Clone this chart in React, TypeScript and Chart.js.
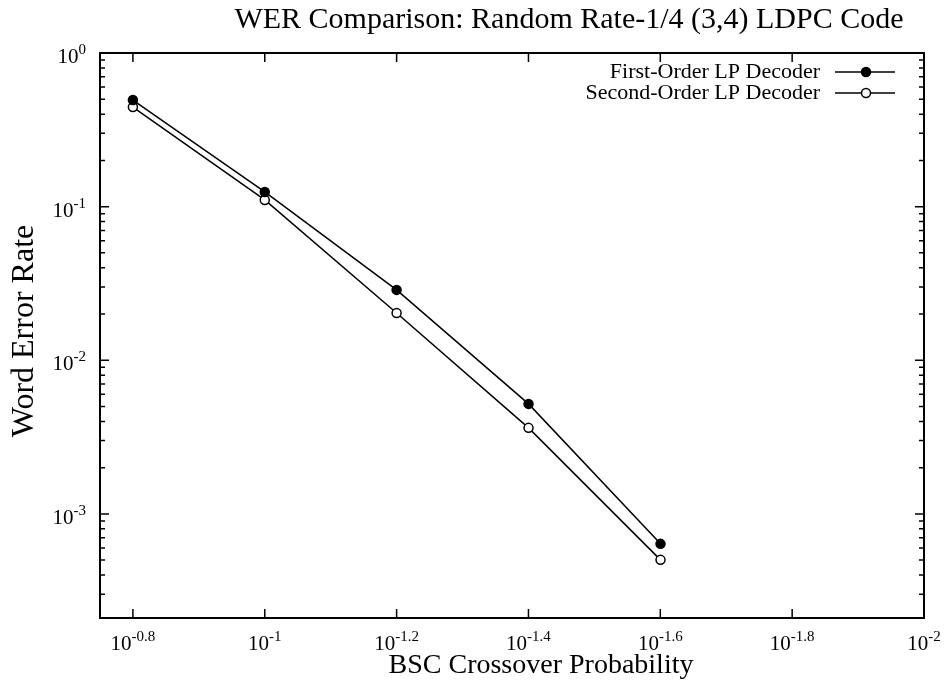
import React, { useEffect, useRef } from "react";
import { Chart, registerables } from "chart.js";

Chart.register(...registerables);

// ---- data ----
const crossoverProb = [0.1585, 0.1, 0.0631, 0.0398, 0.0251]; // 10^-0.8 ... 10^-1.6
const firstOrderWER = [0.494, 0.1246, 0.0287, 0.0052, 0.000638];
const secondOrderWER = [0.445, 0.1105, 0.0203, 0.00363, 0.000502];

const xTickExponents = [-0.8, -1, -1.2, -1.4, -1.6, -1.8, -2];
const xTickLabels = ["-0.8", "-1", "-1.2", "-1.4", "-1.6", "-1.8", "-2"];
const yTickExponents = [0, -1, -2, -3];
const yTickLabels = ["0", "-1", "-2", "-3"];

const xMin = 0.01;
const xMax = 0.1778;
const yMin = 0.00021;
const yMax = 1;

const seriesNames = ["First-Order LP Decoder", "Second-Order LP Decoder"];
const titleText = "WER Comparison: Random Rate-1/4 (3,4) LDPC Code";
const xTitle = "BSC Crossover Probability";
const yTitle = "Word Error Rate";

const SERIF = '"Liberation Serif", "DejaVu Serif", serif';

function drawPow(ctx: CanvasRenderingContext2D, x: number, y: number, exp: string, align: "center" | "right") {
  ctx.textBaseline = "alphabetic";
  ctx.textAlign = "left";
  ctx.font = `21px ${SERIF}`;
  const wb = ctx.measureText("10").width;
  ctx.font = `15px ${SERIF}`;
  const ws = ctx.measureText(exp).width;
  const total = wb + ws;
  const start = align === "center" ? x - total / 2 : x - total;
  ctx.font = `21px ${SERIF}`;
  ctx.fillText("10", start, y);
  ctx.font = `15px ${SERIF}`;
  ctx.fillText(exp, start + wb, y - 9);
}

const decorPlugin = {
  id: "decor",
  afterDraw(chart: any) {
    const ctx: CanvasRenderingContext2D = chart.ctx;
    const ca = chart.chartArea;
    const xs = chart.scales.x;
    const ys = chart.scales.y;
    ctx.save();
    ctx.fillStyle = "#000";
    ctx.strokeStyle = "#000";
    // frame
    ctx.lineWidth = 2;
    ctx.strokeRect(ca.left, ca.top, ca.right - ca.left, ca.bottom - ca.top);
    ctx.lineWidth = 1.5;
    // x ticks
    xTickExponents.forEach((e, i) => {
      const px = xs.getPixelForValue(Math.pow(10, e));
      ctx.beginPath();
      ctx.moveTo(px, ca.bottom);
      ctx.lineTo(px, ca.bottom - 9);
      ctx.moveTo(px, ca.top);
      ctx.lineTo(px, ca.top + 9);
      ctx.stroke();
      drawPow(ctx, px, ca.bottom + 32, xTickLabels[i], "center");
    });
    // y major ticks
    yTickExponents.forEach((e, i) => {
      const py = ys.getPixelForValue(Math.pow(10, e));
      ctx.beginPath();
      ctx.moveTo(ca.left, py);
      ctx.lineTo(ca.left + 9, py);
      ctx.moveTo(ca.right, py);
      ctx.lineTo(ca.right - 9, py);
      ctx.stroke();
      drawPow(ctx, ca.left - 14, py + 10, yTickLabels[i], "right");
    });
    // y minor ticks
    for (let d = -4; d <= 0; d++) {
      for (let m = 2; m <= 9; m++) {
        const v = m * Math.pow(10, d);
        if (v < yMin || v > yMax) continue;
        const py = ys.getPixelForValue(v);
        ctx.beginPath();
        ctx.moveTo(ca.left, py);
        ctx.lineTo(ca.left + 5, py);
        ctx.moveTo(ca.right, py);
        ctx.lineTo(ca.right - 5, py);
        ctx.stroke();
      }
    }
    // titles
    ctx.textAlign = "center";
    ctx.textBaseline = "alphabetic";
    ctx.font = `30px ${SERIF}`;
    ctx.fillText(titleText, 569, 28);
    ctx.font = `28px ${SERIF}`;
    ctx.fillText(xTitle, 541, 673);
    ctx.save();
    ctx.translate(33, 331);
    ctx.rotate(-Math.PI / 2);
    ctx.font = `32px ${SERIF}`;
    ctx.fillText(yTitle, 0, 0);
    ctx.restore();
    // legend
    const rows = [72, 93];
    ctx.font = `22px ${SERIF}`;
    ctx.textAlign = "right";
    ctx.textBaseline = "middle";
    rows.forEach((ry, i) => {
      ctx.fillStyle = "#000";
      ctx.fillText(seriesNames[i], 820, ry);
      ctx.lineWidth = 1.5;
      ctx.beginPath();
      ctx.moveTo(835, ry);
      ctx.lineTo(895, ry);
      ctx.stroke();
      ctx.beginPath();
      ctx.arc(866, ry, 4.5, 0, Math.PI * 2);
      ctx.fillStyle = i === 0 ? "#000" : "#fff";
      ctx.fill();
      ctx.stroke();
    });
    ctx.restore();
  },
};

export default function App() {
  const ref = useRef<HTMLCanvasElement | null>(null);
  useEffect(() => {
    if (!ref.current) return;
    const chart = new Chart(ref.current, {
      type: "line",
      data: {
        datasets: [
          {
            label: seriesNames[0],
            data: crossoverProb.map((x, i) => ({ x, y: firstOrderWER[i] })),
            borderColor: "#000",
            borderWidth: 1.5,
            pointRadius: 4.5,
            pointBackgroundColor: "#000",
            pointBorderColor: "#000",
            pointBorderWidth: 1.5,
            tension: 0,
          },
          {
            label: seriesNames[1],
            data: crossoverProb.map((x, i) => ({ x, y: secondOrderWER[i] })),
            borderColor: "#000",
            borderWidth: 1.5,
            pointRadius: 4.5,
            pointBackgroundColor: "#fff",
            pointBorderColor: "#000",
            pointBorderWidth: 1.5,
            tension: 0,
          },
        ],
      },
      options: {
        responsive: false,
        animation: false,
        devicePixelRatio: 1,
        layout: { padding: { left: 100, right: 21, top: 53, bottom: 69 } },
        plugins: { legend: { display: false }, title: { display: false }, tooltip: { enabled: false } },
        scales: {
          x: { type: "logarithmic", display: false, reverse: true, min: xMin, max: xMax },
          y: { type: "logarithmic", display: false, min: yMin, max: yMax },
        },
      },
      plugins: [decorPlugin],
    });
    return () => chart.destroy();
  }, []);
  return (
    <div style={{ position: "fixed", left: 0, top: 0, width: 945, height: 687, background: "#fff" }}>
      <canvas ref={ref} width={945} height={687} style={{ display: "block" }} />
    </div>
  );
}
